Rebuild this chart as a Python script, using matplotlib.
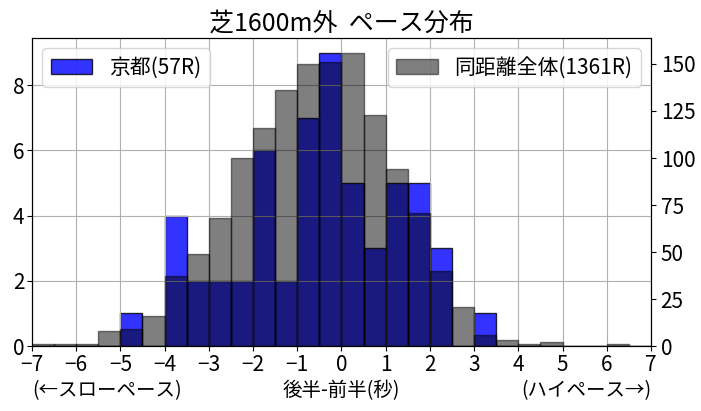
import numpy as np
import matplotlib
matplotlib.use('Agg')
import matplotlib.pyplot as plt

plt.rcParams['font.family'] = ['Noto Sans CJK JP', 'DejaVu Sans']

# bin edges -7..7 step 0.5, counts per bin
bin_edges = np.arange(-7.0, 7.01, 0.5)
kyoto_counts = [0, 0, 0, 0, 1, 0, 4, 2, 2, 2, 6, 2, 7, 9,
                5, 3, 5, 5, 3, 0, 1, 0, 0, 0, 0, 0, 0, 0]
all_counts = [1, 1, 1, 8, 9, 16, 37, 49, 68, 100, 116, 136, 150, 151,
              156, 123, 94, 71, 40, 21, 6, 3, 1, 2, 0, 0, 1, 0]
kyoto_label = '京都(57R)'
all_label = '同距離全体(1361R)'
title = '芝1600m外  ペース分布'
xticks = list(range(-7, 8))

centers = bin_edges[:-1] + 0.25

fig = plt.figure(figsize=(7.01, 4.11), dpi=100)
ax1 = fig.add_axes([0.0456, 0.158, 0.883, 0.7495])
ax1.hist(centers, bins=bin_edges, weights=kyoto_counts, color='blue', alpha=0.8,
         edgecolor='black', label=kyoto_label)
ax1.grid(True)
ax1.set_xlim(-7, 7)
ax1.set_xticks(xticks)
ax1.tick_params(labelsize=15, pad=2)
ax1.legend(loc='upper left', fontsize=15)

ax2 = ax1.twinx()
ax2.hist(centers, bins=bin_edges, weights=all_counts, color='black', alpha=0.5,
         edgecolor='black', label=all_label)
ax2.set_xlim(-7, 7)
ax2.tick_params(labelsize=15)
ax2.legend(loc='upper right', fontsize=15)

ax1.set_title(title, fontsize=18, pad=5)
ax1.set_xlabel('後半-前半(秒)', fontsize=14, va='center')
ax1.xaxis.set_label_coords(0.5, -0.145)
ax1.text(0.0, -0.145, '(←スローペース)', transform=ax1.transAxes, fontsize=14,
         ha='left', va='center')
ax1.text(1.0, -0.145, '(ハイペース→)', transform=ax1.transAxes, fontsize=14,
         ha='right', va='center')

fig.savefig('out.png', dpi=100)
